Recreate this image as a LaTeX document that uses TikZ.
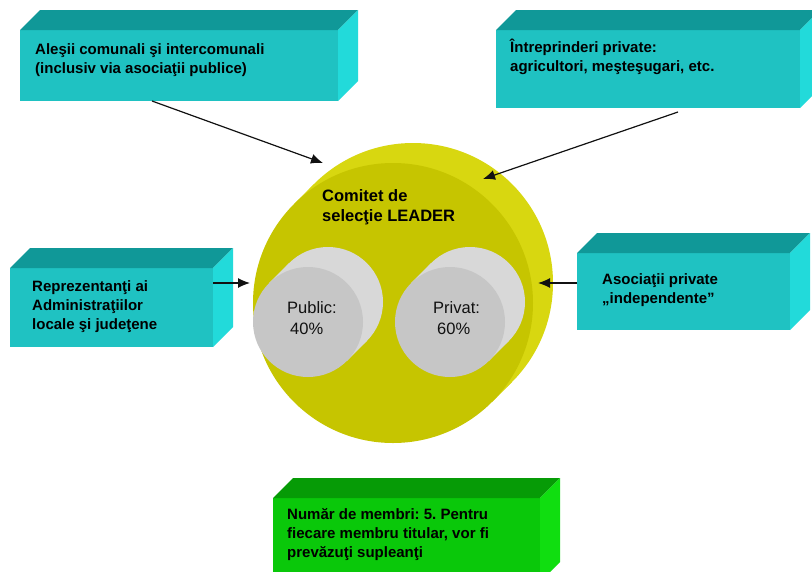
\documentclass[tikz,border=0pt]{standalone}
\usepackage{fontspec}
\setmainfont{Liberation Sans}
\frenchspacing
\usetikzlibrary{arrows.meta}
\definecolor{tealfront}{HTML}{1FC2C2}
\definecolor{tealtop}{HTML}{109898}
\definecolor{tealside}{HTML}{22DADA}
\definecolor{greenfront}{HTML}{0AC80A}
\definecolor{greentop}{HTML}{069B06}
\definecolor{greenside}{HTML}{10DE10}
\definecolor{diskfront}{HTML}{C6C500}
\definecolor{diskrim}{HTML}{D8D710}
\definecolor{drumfront}{HTML}{C6C6C6}
\definecolor{drumside}{HTML}{D8D8D8}
\definecolor{ink}{HTML}{111111}

% top and right faces of a block whose front face is node #1
\newcommand{\blockfaces}[3]{%
  \fill[#2] (#1.north west) -- ++(20,-20) -- ([shift={(20,-20)}]#1.north east) -- (#1.north east) -- cycle;
  \fill[#3] (#1.north east) -- ++(20,-20) -- ([shift={(20,-20)}]#1.south east) -- (#1.south east) -- cycle;
}
% a drum: back disc, band, front disc named #1
\newcommand{\drum}[5]{%
  \node[circle, inner sep=0pt, outer sep=0pt, fill=#5, minimum size=#3] (#1Back) at ([shift={(20,-20)}]#2) {};
  \fill[#5] ([shift={(-20,20)}]#1Back.135) -- (#1Back.135) -- (#1Back.-45) -- ([shift={(-20,20)}]#1Back.-45) -- cycle;
  \node[circle, inner sep=0pt, outer sep=0pt, fill=#4, minimum size=#3] (#1) at (#2) {};
}

\begin{document}
\begin{tikzpicture}[x=1pt, y=-1pt,
    face/.style={rectangle, inner sep=0pt, outer sep=0pt},
    boxtext/.style={anchor=north west, inner sep=0pt, align=left, font=\fontsize{15}{19}\selectfont\bfseries},
    feed/.style={-{Latex[length=12pt, width=10pt]}, draw=ink, line width=1.2pt}]
  \useasboundingbox (0,0) rectangle (812,571);

  % committee disc and the two drums
  \drum{comitet}{393,303}{280pt}{diskfront}{diskrim}
  \drum{public}{308,322}{110pt}{drumfront}{drumside}
  \drum{privat}{450,322}{110pt}{drumfront}{drumside}
  \node[anchor=north west, inner sep=0pt, align=left, font=\fontsize{16.5}{20.5}\selectfont\bfseries] (comitetText) at (322,189) {Comitet de\\selecţie LEADER};
  \node[anchor=north west, inner sep=0pt, align=left, font=\fontsize{16.5}{21}\selectfont, text=ink] (publicText) at (287,301) {Public:\\\hspace*{3pt}40\%};
  \node[anchor=north west, inner sep=0pt, align=left, font=\fontsize{16.5}{21}\selectfont, text=ink] (privatText) at (433,301) {Privat:\\\hspace*{4pt}60\%};

  % blocks
  \node[face, fill=tealfront, minimum width=318pt, minimum height=71pt] (ales) at (179,65.5) {};
  \blockfaces{ales}{tealtop}{tealside}
  \node[boxtext] (alesText) at (35,43) {Aleşii comunali şi intercomunali\\(inclusiv via asociaţii publice)};

  \node[face, fill=tealfront, minimum width=304pt, minimum height=78pt] (intreprinderi) at (648,69) {};
  \blockfaces{intreprinderi}{tealtop}{tealside}
  \node[boxtext] (intreprinderiText) at (510,39) {Întreprinderi private:\\agricultori, meşteşugari, etc.};

  \node[face, fill=tealfront, minimum width=203pt, minimum height=79pt] (reprezentanti) at (111.5,307.5) {};
  \blockfaces{reprezentanti}{tealtop}{tealside}
  \node[boxtext] (reprezentantiText) at (32,280) {Reprezentanţi ai\\Administraţiilor\\locale şi judeţene};

  \node[face, fill=tealfront, minimum width=213pt, minimum height=77pt] (asociatii) at (683.5,291.5) {};
  \blockfaces{asociatii}{tealtop}{tealside}
  \node[boxtext] (asociatiiText) at (602,273) {Asociaţii private\\„independente”};

  \node[face, fill=greenfront, minimum width=267pt, minimum height=84pt] (numar) at (406.5,540) {};
  \blockfaces{numar}{greentop}{greenside}
  \node[boxtext] (numarText) at (287,508) {Număr de membri: 5. Pentru\\fiecare membru titular, vor fi\\prevăzuţi supleanţi};

  % arrows into the committee
  \coordinate (rimA) at (323,163);
  \coordinate (rimB) at (483,179);
  \coordinate (rimC) at (250,283);
  \coordinate (rimD) at (538,283);
  \draw[feed] ([xshift=-27pt]ales.south) -- (rimA);
  \draw[feed] ([xshift=30pt, yshift=-4pt]intreprinderi.south) -- (rimB);
  \draw[feed] (reprezentanti.east |- rimC) -- (rimC);
  \draw[feed] (asociatii.west |- rimD) -- (rimD);
\end{tikzpicture}
\end{document}
